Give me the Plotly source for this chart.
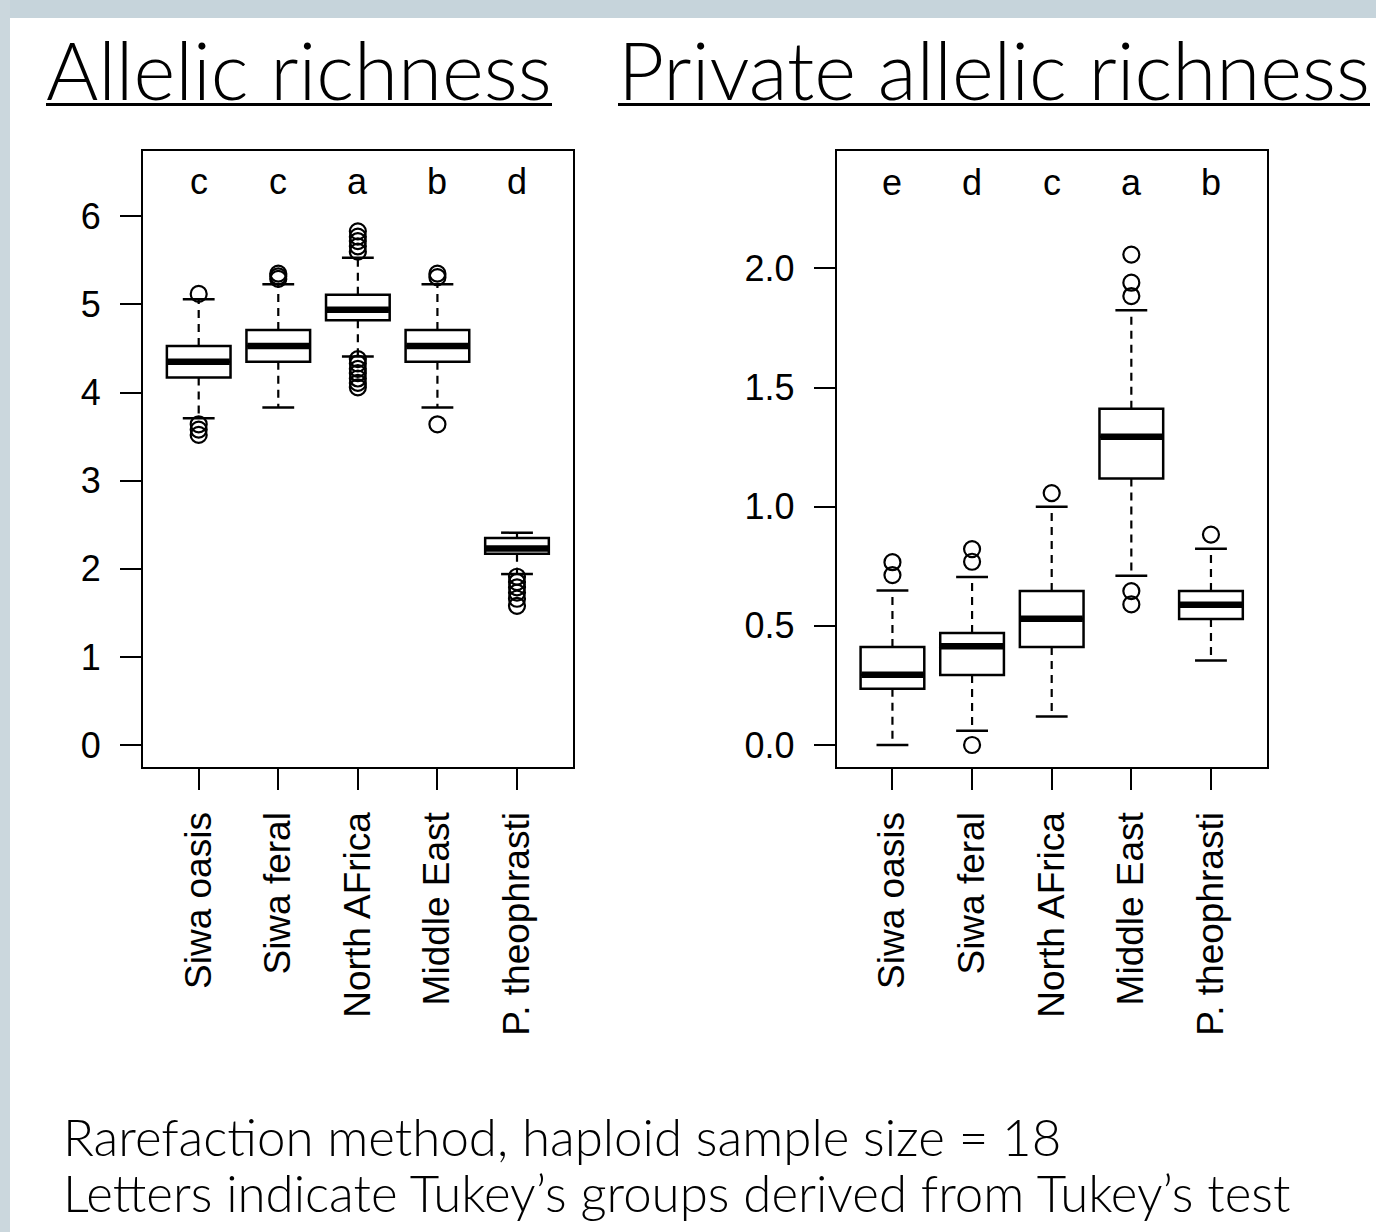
import plotly.graph_objects as go

W, H = 1376, 1232

# ---------------- data ----------------
categories = ["Siwa oasis", "Siwa feral", "North AFrica", "Middle East", "P. theophrasti"]

# Allelic richness
ar_lower = [3.71, 3.83, 4.41, 3.83, 1.94]
ar_q1 = [4.17, 4.35, 4.82, 4.35, 2.17]
ar_median = [4.35, 4.53, 4.94, 4.53, 2.23]
ar_q3 = [4.53, 4.71, 5.11, 4.71, 2.35]
ar_upper = [5.06, 5.23, 5.53, 5.23, 2.41]
ar_outliers = [
    [5.12, 3.64, 3.58, 3.52],
    [5.35, 5.32, 5.29],
    [5.83, 5.77, 5.72, 5.66, 5.60, 4.38, 4.33, 4.27, 4.22, 4.16, 4.11, 4.06],
    [5.35, 5.31, 3.64],
    [1.91, 1.85, 1.79, 1.73, 1.66, 1.58],
]
ar_letters = ["c", "c", "a", "b", "d"]
ar_yticks = [0, 1, 2, 3, 4, 5, 6]
ar_yticktext = ["0", "1", "2", "3", "4", "5", "6"]

# Private allelic richness
par_lower = [0.0, 0.06, 0.12, 0.71, 0.355]
par_q1 = [0.236, 0.294, 0.411, 1.118, 0.529]
par_median = [0.295, 0.414, 0.53, 1.294, 0.589]
par_q3 = [0.411, 0.47, 0.646, 1.411, 0.646]
par_upper = [0.648, 0.705, 1.0, 1.824, 0.824]
par_outliers = [
    [0.767, 0.713],
    [0.822, 0.769, 0.0],
    [1.057],
    [2.058, 1.94, 1.884, 0.646, 0.59],
    [0.883],
]
par_letters = ["e", "d", "c", "a", "b"]
par_yticks = [0.0, 0.5, 1.0, 1.5, 2.0]
par_yticktext = ["0.0", "0.5", "1.0", "1.5", "2.0"]

titles = ["Allelic richness", "Private allelic richness"]
notes = ["Rarefaction method, haploid sample size = 18",
         "Letters indicate Tukey\u2019s groups derived from Tukey\u2019s test"]

# ---------------- style ----------------
RFONT = "Liberation Sans"
TFONT = "Lato"
BOX_W = 0.8
CAP_W = 0.4
letter_y = [6.40, 2.36]

fig = go.Figure()
positions = list(range(1, len(categories) + 1))


def add_panel(xa, ya, lo, q1, med, q3, hi, outl, letters, ly):
    wx, wy = [], []
    for i, p in enumerate(positions):
        wx += [p, p, None, p, p, None]
        wy += [q3[i], hi[i], None, q1[i], lo[i], None]
    fig.add_trace(go.Scatter(x=wx, y=wy, mode="lines", xaxis=xa, yaxis=ya,
                             line=dict(color="black", width=2.2, dash="8px,6px"),
                             hoverinfo="skip"))
    cx, cy = [], []
    for i, p in enumerate(positions):
        cx += [p - CAP_W / 2, p + CAP_W / 2, None, p - CAP_W / 2, p + CAP_W / 2, None]
        cy += [hi[i], hi[i], None, lo[i], lo[i], None]
    fig.add_trace(go.Scatter(x=cx, y=cy, mode="lines", xaxis=xa, yaxis=ya,
                             line=dict(color="black", width=2.5), hoverinfo="skip"))
    fig.add_trace(go.Box(x=positions, q1=q1, median=med, q3=q3,
                         lowerfence=q1, upperfence=q3, width=BOX_W,
                         fillcolor="white", line=dict(color="black", width=2.5),
                         whiskerwidth=0, boxpoints=False, xaxis=xa, yaxis=ya,
                         hoverinfo="skip"))
    mx, my = [], []
    for i, p in enumerate(positions):
        mx += [p - BOX_W / 2 + 0.01, p + BOX_W / 2 - 0.01, None]
        my += [med[i], med[i], None]
    fig.add_trace(go.Scatter(x=mx, y=my, mode="lines", xaxis=xa, yaxis=ya,
                             line=dict(color="black", width=6.5), hoverinfo="skip"))
    ox, oy = [], []
    for i, p in enumerate(positions):
        for v in outl[i]:
            ox.append(p)
            oy.append(v)
    fig.add_trace(go.Scatter(x=ox, y=oy, mode="markers", xaxis=xa, yaxis=ya,
                             marker=dict(symbol="circle-open", size=16, color="black",
                                         line=dict(width=2.2, color="black")),
                             hoverinfo="skip"))
    for i, p in enumerate(positions):
        fig.add_annotation(x=p, y=ly, xref=xa, yref=ya, text=letters[i],
                           showarrow=False, xanchor="center", yanchor="middle",
                           font=dict(family=RFONT, size=36, color="black"))


add_panel("x", "y", ar_lower, ar_q1, ar_median, ar_q3, ar_upper, ar_outliers,
          ar_letters, letter_y[0])
add_panel("x2", "y2", par_lower, par_q1, par_median, par_q3, par_upper, par_outliers,
          par_letters, letter_y[1])

ydom = [1 - 767.3 / H, 1 - 151 / H]
xaxis_common = dict(tickvals=positions, ticktext=categories, tickangle=-90,
                    range=[0.30, 5.70], ticks="outside", ticklen=21, tickwidth=2,
                    tickcolor="black", showline=True, linewidth=2, linecolor="black",
                    mirror=True, showgrid=False, zeroline=False,
                    ticklabelstandoff=7,
                    tickfont=dict(family=RFONT, size=37, color="black"))
yaxis_common = dict(ticks="outside", ticklen=21, tickwidth=2, tickcolor="black",
                    showline=True, linewidth=2, linecolor="black", mirror=True,
                    showgrid=False, zeroline=False, ticklabelstandoff=12,
                    tickfont=dict(family=RFONT, size=36, color="black"))

fig.update_layout(
    width=W, height=H, autosize=False,
    margin=dict(l=0, r=0, t=0, b=0),
    paper_bgcolor="white", plot_bgcolor="white",
    showlegend=False,
    xaxis=dict(domain=[143 / W, 572.7 / W], anchor="y", **xaxis_common),
    yaxis=dict(domain=ydom, anchor="x", range=[-0.253, 6.742],
               tickvals=ar_yticks, ticktext=ar_yticktext, **yaxis_common),
    xaxis2=dict(domain=[836.7 / W, 1266.7 / W], anchor="y2", **xaxis_common),
    yaxis2=dict(domain=ydom, anchor="x2", range=[-0.0936, 2.4927],
                tickvals=par_yticks, ticktext=par_yticktext, **yaxis_common),
    shapes=[
        dict(type="rect", xref="paper", yref="paper", x0=0, x1=1,
             y0=1 - 18 / H, y1=1, fillcolor="#c6d4db", line=dict(width=0), layer="below"),
        dict(type="rect", xref="paper", yref="paper", x0=0, x1=10 / W,
             y0=0, y1=1, fillcolor="#cbd7dd", line=dict(width=0), layer="below"),
        # title underlines
        dict(type="line", xref="paper", yref="paper", x0=46 / W, x1=552 / W,
             y0=1 - 104.5 / H, y1=1 - 104.5 / H, line=dict(color="black", width=3)),
        dict(type="line", xref="paper", yref="paper", x0=618 / W, x1=1370 / W,
             y0=1 - 104.5 / H, y1=1 - 104.5 / H, line=dict(color="black", width=3)),
    ],
)

# titles
title_x = [44 / W, 616 / W]
for t, tx in zip(titles, title_x):
    fig.add_annotation(x=tx, y=1 - 69 / H, xref="paper", yref="paper", text=t,
                       showarrow=False, xanchor="left", yanchor="middle",
                       font=dict(family=TFONT, size=80, color="black", weight=300))

# footnotes
note_y = [1 - 1136 / H, 1 - 1192 / H]
for t, ny in zip(notes, note_y):
    fig.add_annotation(x=61 / W, y=ny, xref="paper", yref="paper", text=t,
                       showarrow=False, xanchor="left", yanchor="middle",
                       font=dict(family=TFONT, size=51, color="black", weight=300))

fig.write_html("out.html", config={"displayModeBar": False},
               post_script="document.body.style.margin='0';document.body.style.overflow='hidden';")
